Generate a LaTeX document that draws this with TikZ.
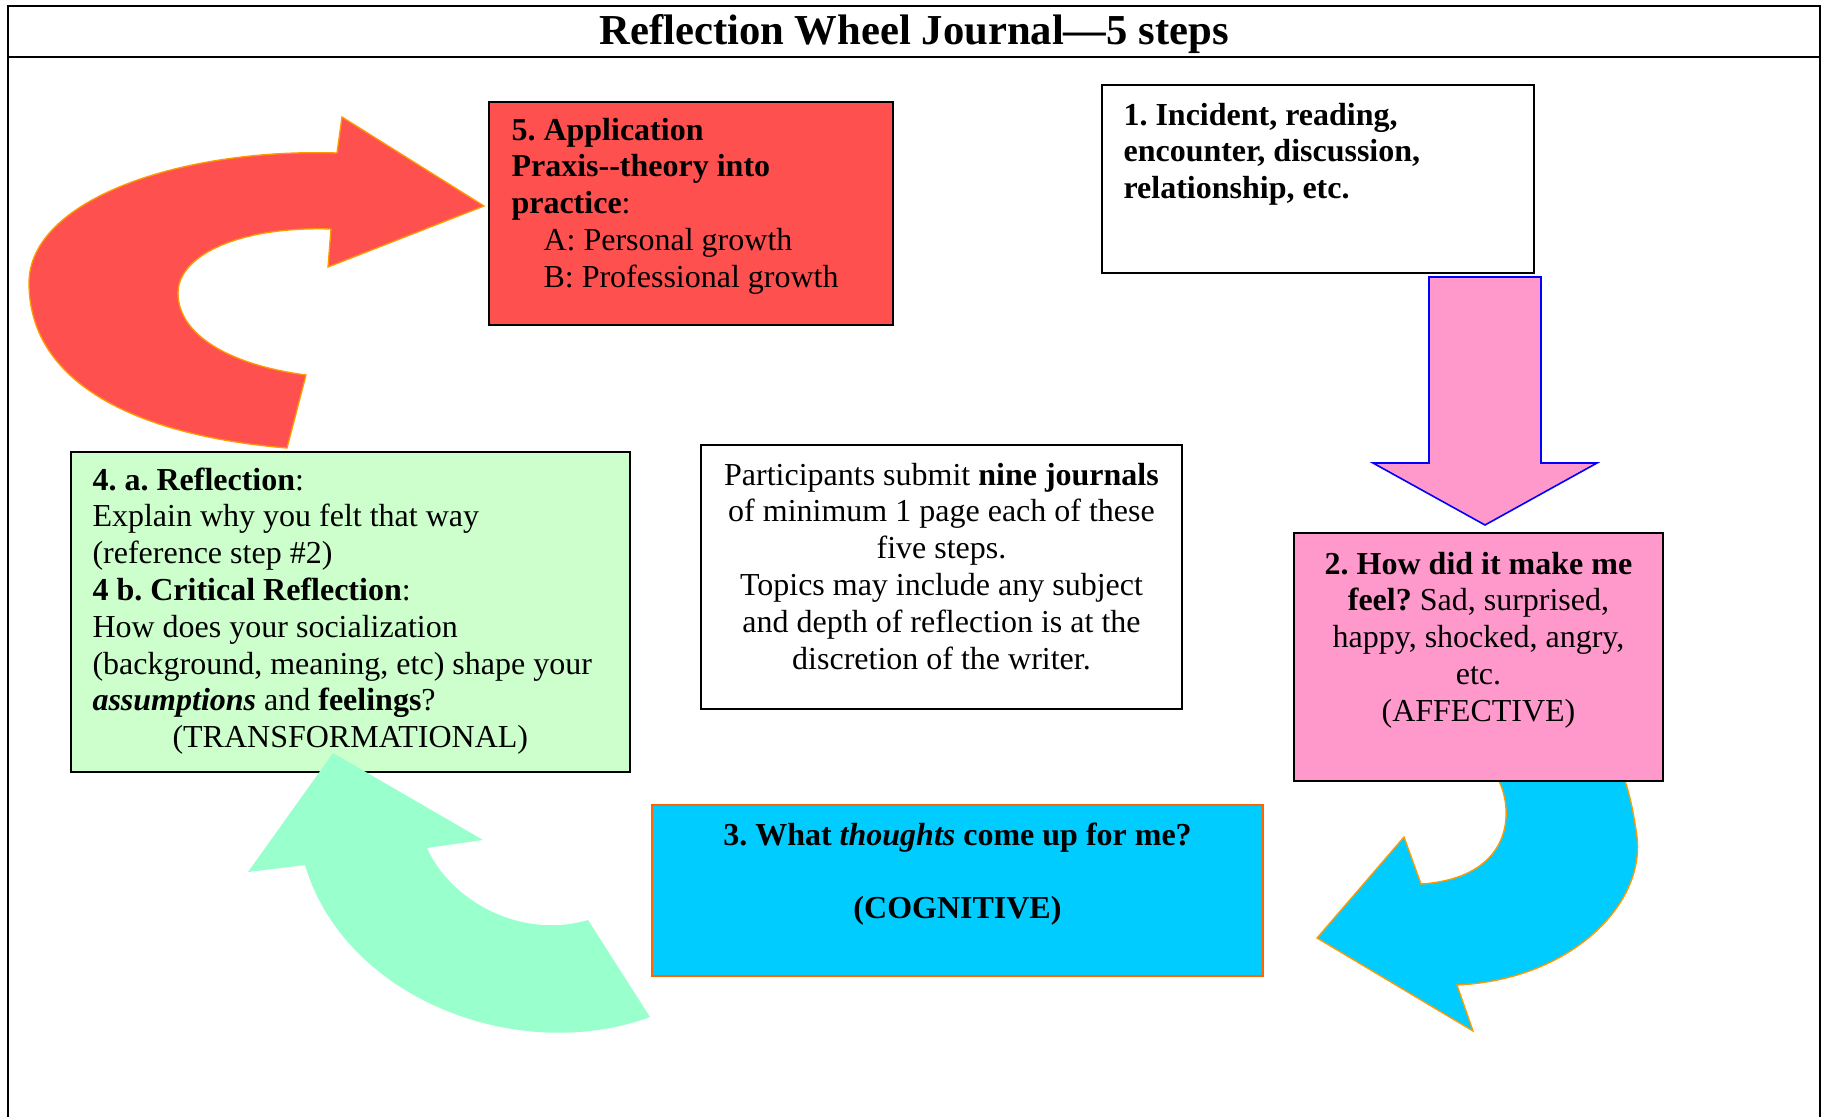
\documentclass[tikz,border=0pt]{standalone}
\usepackage{fontspec}
\setmainfont{Liberation Serif}
\usetikzlibrary{fit}
\frenchspacing
\definecolor{redF}{HTML}{FF5050}
\definecolor{pinkF}{HTML}{FF99CC}
\definecolor{cyanF}{HTML}{00CCFF}
\definecolor{greenF}{HTML}{CCFFCC}
\definecolor{mintF}{HTML}{99FFCC}
\definecolor{orangeL}{HTML}{FF9900}
\definecolor{orangeB}{HTML}{FF6600}
\definecolor{blueL}{HTML}{0000FF}
\newcommand{\bodyfnt}{\fontsize{12}{13.8}\selectfont}
\begin{document}
\begin{tikzpicture}[x=0.375pt,y=-0.375pt,
  frameline/.style={line width=0.9pt},
  boxshape/.style={draw=black, line width=0.8pt, inner sep=0pt},
  txt/.style={inner sep=0pt, font=\bodyfnt},
  bigarrow/.style={draw=orangeL, line width=0.5pt, line join=miter}]
\useasboundingbox (0,0) rectangle (1828,1117);

% frame
\draw[frameline] (8,1117) -- (8,6) -- (1820,6) -- (1820,1117);
\draw[frameline] (8,57) -- (1820,57);
\node[inner sep=0pt, anchor=base, font=\fontsize{16}{18.4}\selectfont\bfseries] (title) at (914,44) {Reflection Wheel Journal—5 steps};

% red curved arrow
\filldraw[bigarrow, fill=redF]
  (484,206) -- (342,117) -- (337,153)
  .. controls (180,148) and (29,200) .. (29,283)
  .. controls (29,380) and (130,435) .. (287,448)
  -- (306,375)
  .. controls (230,365) and (178,335) .. (178,293)
  .. controls (178,255) and (240,226) .. (331,229)
  -- (328,267) -- cycle;

% cyan curved arrow
\filldraw[bigarrow, fill=cyanF]
  (1497,775) -- (1499,781)
  .. controls (1515,815) and (1510,878) .. (1421,884)
  -- (1404,837) -- (1317,938) -- (1473,1031) -- (1457,985)
  .. controls (1570,980) and (1645,905) .. (1637,837)
  .. controls (1634,815) and (1630,795) .. (1625,781)
  -- (1622,775) -- cycle;

% pink straight arrow
\filldraw[draw=blueL, line width=0.6pt, fill=pinkF, line join=miter]
  (1429,277) -- (1541,277) -- (1541,463) -- (1597,463) -- (1485,525)
  -- (1373,463) -- (1429,463) -- cycle;

% boxes
\node[boxshape, fill=redF, fit={(489,102) (893,325)}] (b5) {};
\node[boxshape, fill=white, fit={(1102,85) (1534,273)}] (b1) {};
\node[boxshape, fill=pinkF, fit={(1294,533) (1663,781)}] (b2) {};
\node[boxshape, draw=orangeB, fill=cyanF, fit={(652,805) (1263,976)}] (b3) {};
\node[boxshape, fill=greenF, fit={(71,452) (630,772)}] (b4) {};
\node[boxshape, fill=white, fit={(701,445) (1182,709)}] (bc) {};

% mint curved arrow (on top of box 4)
\fill[mintF]
  (333,753) -- (483,840) -- (427,848)
  .. controls (450,900) and (520,940) .. (588,920)
  -- (650,1017)
  .. controls (520,1065) and (345,1000) .. (305,865)
  -- (248,872) -- cycle;

% texts
\node[txt, anchor=base west] (t5) at (511,140) {\parbox[t]{170pt}{\raggedright
  \textbf{5. Application}\\
  \textbf{Praxis-{}-theory into}\\
  \textbf{practice}:\\
  \hspace*{1em}A: Personal growth\\
  \hspace*{1em}B: Professional growth}};

\node[txt, anchor=base west] (t1) at (1123,125) {\parbox[t]{150pt}{\raggedright\bfseries
  1. Incident, reading,\\
  encounter, discussion,\\
  relationship, etc.}};

\node[txt, anchor=base] (t2) at (1478.5,574) {\parbox[t]{130pt}{\centering
  \textbf{2. How did it make me}\\
  \textbf{feel?} Sad, surprised,\\
  happy, shocked, angry,\\
  etc.\\
  (AFFECTIVE)}};

\node[txt, anchor=base] (t3) at (957.5,845) {\parbox[t]{220pt}{\centering\bfseries
  3. What \textit{thoughts} come up for me?\\[\baselineskip]
  (COGNITIVE)}};

\node[txt, anchor=base west] (t4) at (92,490) {\parbox[t]{205pt}{\raggedright
  \textbf{4. a. Reflection}:\\
  Explain why you felt that way\\
  (reference step \#2)\\
  \textbf{4 b. Critical Reflection}:\\
  How does your socialization\\
  (background, meaning, etc) shape your\\
  \textbf{\textit{assumptions}} and \textbf{feelings}?\\
  \hspace*{30pt}(TRANSFORMATIONAL)}};

\node[txt, anchor=base] (tc) at (941.5,485) {\parbox[t]{175pt}{\centering
  Participants submit \textbf{nine journals}\\
  of minimum 1 page each of these\\
  five steps.\\
  Topics may include any subject\\
  and depth of reflection is at the\\
  discretion of the writer.}};
\end{tikzpicture}
\end{document}
